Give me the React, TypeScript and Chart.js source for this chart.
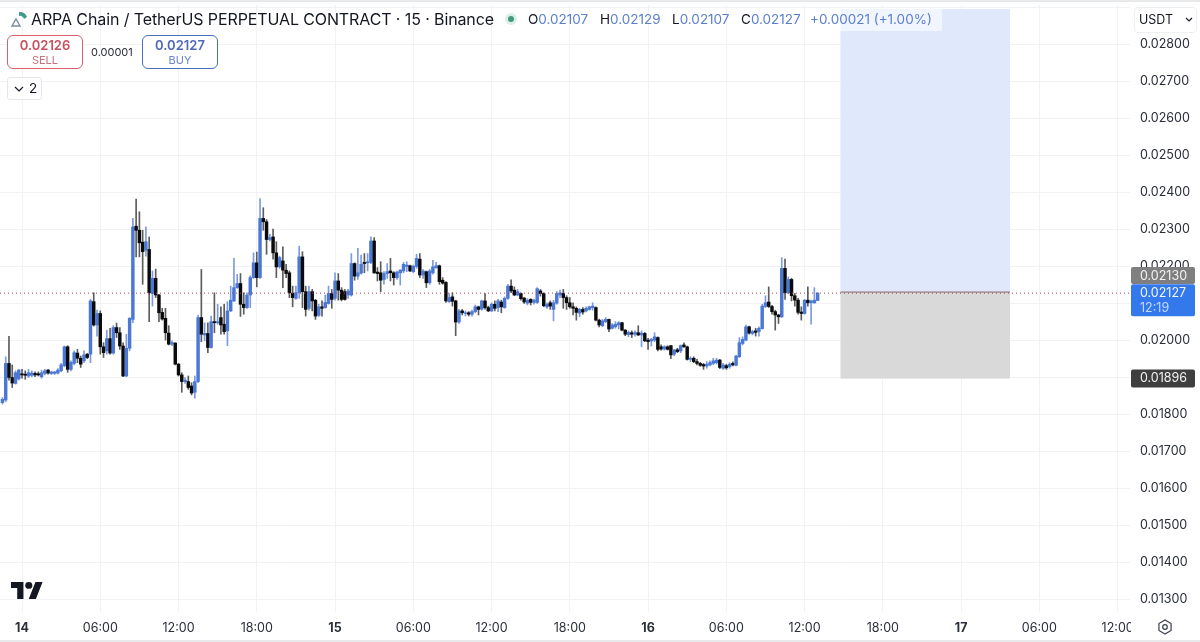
import React, { useEffect, useRef } from "react";
import { Chart, registerables } from "chart.js";

Chart.register(...registerables);

// Prices are in units of 0.00001 USDT; candle 0 is 14th 00:00, one candle = 15 minutes.
const PRICE_UNIT = 100000;
const firstCandle = -6;
const opens = [1831,1838,1937,1899,1883,1895,
1909,1908,1903,1905,1910,1909,1901,1910,1919,1910,
1910,1911,1917,1931,1982,1921,1937,1965,1951,1944,
1962,1962,2104,2041,2072,1982,1971,2004,1965,2034,
2020,1984,1903,1978,2056,2308,2297,2265,2243,2245,
2126,2167,2122,2075,2059,2019,1989,1992,1935,1906,
1888,1888,1876,1859,1888,2061,2014,2018,1980,2050,
2047,2061,2043,2025,2079,2106,2142,2153,2097,2088,
2122,2169,2209,2169,2329,2320,2272,2279,2236,2198,
2214,2189,2182,2127,2113,2128,2225,2131,2086,2131,
2108,2067,2090,2088,2099,2126,2113,2160,2135,2131,
2122,2122,2207,2173,2181,2210,2209,2210,2268,2184,
2182,2164,2180,2187,2182,2169,2182,2187,2199,2201,
2185,2199,2219,2176,2185,2155,2182,2196,2201,2162,
2156,2104,2117,2106,2049,2079,2072,2074,2070,2077,
2090,2084,2106,2088,2079,2097,2088,2103,2088,2113,
2146,2135,2122,2126,2114,2100,2110,2102,2102,2133,
2126,2090,2101,2083,2100,2122,2126,2115,2101,2090,
2086,2073,2083,2079,2083,2088,2088,2054,2039,2050,
2056,2032,2036,2041,2047,2027,2015,2020,2016,2020,
2014,2018,2000,1998,2000,2007,1982,1976,1982,1985,
1962,1974,1971,1987,1982,1948,1951,1942,1937,1934,
1930,1933,1937,1939,1946,1924,1931,1928,1937,1932,
1955,1991,2000,2036,2018,2025,2023,2031,2091,2103,
2091,2077,2068,2063,2194,2128,2164,2120,2108,2076,
2072,2108,2101,2101,2107];
const closes = [1840,1937,1899,1884,1912,1919,
1906,1905,1912,1911,1906,1906,1912,1917,1911,1914,
1914,1919,1933,1982,1921,1940,1966,1951,1935,1960,
1953,2106,2041,2072,1982,1966,2004,1965,2034,2020,
1984,1903,1978,2059,2306,2297,2263,2239,2266,2128,
2167,2122,2074,2057,2020,1989,1993,1935,1906,1888,
1892,1872,1857,1888,2061,2016,2018,1980,2050,2047,
2050,2041,2023,2079,2108,2142,2153,2097,2088,2122,
2169,2209,2169,2329,2320,2272,2277,2236,2198,2223,
2189,2180,2128,2115,2128,2225,2131,2083,2131,2106,
2065,2090,2086,2102,2126,2110,2160,2135,2110,2110,
2133,2207,2173,2182,2205,2207,2212,2268,2182,2180,
2162,2180,2185,2182,2169,2184,2189,2205,2203,2187,
2200,2221,2176,2187,2155,2187,2198,2201,2158,2154,
2106,2115,2105,2049,2079,2074,2074,2070,2077,2090,
2083,2106,2088,2079,2097,2086,2106,2090,2113,2146,
2133,2122,2131,2112,2103,2108,2102,2108,2139,2126,
2093,2097,2092,2101,2126,2128,2115,2101,2090,2086,
2075,2083,2076,2086,2090,2092,2054,2041,2052,2056,
2030,2041,2043,2047,2027,2016,2021,2016,2020,2014,
2019,1998,1996,2002,2009,1975,1976,1982,1975,1960,
1973,1969,1985,1982,1948,1951,1942,1937,1932,1930,
1935,1939,1944,1946,1926,1933,1925,1935,1933,1957,
1993,2002,2036,2019,2023,2021,2032,2092,2101,2091,
2077,2068,2063,2194,2128,2164,2120,2108,2075,2072,
2108,2101,2106,2108,2127];
const highs = [1845,1955,2010,1933,1917,1921,
1921,1917,1921,1917,1914,1914,1919,1921,1921,1916,
1916,1923,1937,1984,1985,1944,1971,1975,1957,1971,
1964,2110,2128,2081,2079,1993,2027,2032,2039,2046,
2034,1993,2016,2061,2329,2381,2347,2297,2306,2279,
2187,2192,2124,2086,2086,2039,1998,1993,1937,1912,
1899,1903,1885,1903,2068,2191,2047,2047,2065,2128,
2097,2090,2097,2104,2146,2221,2178,2180,2128,2128,
2174,2236,2238,2383,2358,2326,2286,2300,2266,2227,
2252,2205,2187,2146,2146,2254,2239,2146,2146,2137,
2110,2097,2106,2122,2146,2137,2182,2180,2142,2137,
2137,2234,2209,2248,2230,2234,2234,2279,2277,2196,
2212,2185,2207,2221,2185,2187,2191,2210,2212,2203,
2203,2232,2234,2191,2187,2191,2216,2210,2203,2169,
2158,2126,2128,2108,2083,2083,2079,2077,2081,2095,
2092,2108,2126,2092,2101,2106,2110,2108,2117,2151,
2163,2144,2137,2128,2115,2112,2112,2110,2142,2137,
2128,2101,2106,2108,2131,2135,2137,2120,2115,2101,
2090,2086,2088,2090,2092,2101,2090,2057,2056,2061,
2057,2045,2050,2050,2048,2029,2025,2025,2025,2039,
2025,2021,2005,2005,2020,2009,1987,1985,1985,1986,
1975,1978,1987,1993,1984,1955,1955,1948,1940,1937,
1942,1944,1951,1951,1948,1937,1935,1939,1941,1959,
2007,2009,2041,2038,2027,2032,2036,2097,2120,2144,
2094,2081,2070,2223,2219,2171,2167,2126,2113,2090,
2110,2144,2108,2142,2129];
const lows = [1827,1834,1892,1872,1881,1892,
1897,1894,1899,1901,1901,1903,1897,1906,1908,1907,
1907,1908,1915,1928,1913,1917,1933,1939,1926,1939,
1950,1939,2038,2011,1962,1953,1962,1962,1962,2007,
1975,1901,1901,1971,2047,2225,2225,2151,2227,2050,
2092,2115,2050,2054,2000,1987,1985,1933,1903,1859,
1883,1867,1852,1843,1885,1996,1998,1966,1978,2020,
2043,2016,2016,1985,2077,2104,2140,2064,2070,2086,
2088,2167,2144,2167,2297,2232,2268,2219,2169,2194,
2142,2169,2115,2090,2110,2113,2088,2065,2081,2079,
2056,2064,2065,2086,2097,2086,2108,2108,2106,2108,
2113,2119,2162,2164,2178,2182,2187,2207,2180,2160,
2131,2151,2167,2160,2149,2164,2149,2182,2185,2185,
2182,2194,2169,2167,2142,2151,2178,2194,2151,2151,
2102,2102,2092,2012,2045,2068,2065,2065,2065,2074,
2068,2081,2084,2077,2077,2079,2077,2074,2086,2110,
2128,2120,2120,2108,2099,2095,2095,2097,2099,2119,
2090,2086,2083,2052,2097,2115,2086,2083,2086,2068,
2054,2063,2070,2076,2081,2081,2052,2036,2036,2047,
2023,2030,2032,2030,2025,2012,2009,2007,2011,2012,
1982,1996,1975,1984,1996,1971,1973,1973,1973,1950,
1958,1966,1966,1980,1946,1942,1939,1933,1929,1921,
1924,1930,1933,1935,1923,1921,1921,1924,1930,1930,
1953,1987,1998,2016,2014,2011,2011,2030,2088,2088,
2070,2027,2045,2061,2110,2126,2106,2092,2070,2054,
2070,2092,2043,2099,2107];

const timeTickLabels = ["14","06:00","12:00","18:00","15","06:00","12:00","18:00","16","06:00","12:00","18:00","17","06:00","12:00"];
const priceTicks = [2900,2800,2700,2600,2500,2400,2300,2200,2100,2000,1900,1800,1700,1600,1500,1400,1300];
const lastPrice = 2127;
const markPrice = 2130;
const stopPrice = 1896;
const entryPrice = 2130;
const targetPrice = 2895;
const boxStartCandle = 251;
const boxEndCandle = 303;
const timerLabel = "12:19";

const BLUE = "#4a78d4";
const BLACK = "#0b0b0b";
const toPrice = (v: number) => v / PRICE_UNIT;
const FONT = "Inter, 'Noto Sans', sans-serif";

const overlayPlugin = {
  id: "overlay",
  beforeDatasetsDraw(chart: any) {
    const { ctx, scales } = chart;
    const x = scales.x, y = scales.y;
    const l = x.getPixelForValue(boxStartCandle), r = x.getPixelForValue(boxEndCandle);
    const top = y.getPixelForValue(toPrice(targetPrice));
    const mid = y.getPixelForValue(toPrice(entryPrice));
    const bot = y.getPixelForValue(toPrice(stopPrice));
    ctx.save();
    ctx.fillStyle = "#dfe9fb";
    ctx.fillRect(l, top, r - l, mid - top);
    ctx.fillStyle = "#d9d9d9";
    ctx.fillRect(l, mid, r - l, bot - mid);
    ctx.fillStyle = "#8a6a70";
    ctx.fillRect(l, mid - 0.5, r - l, 1);
    ctx.restore();
  },
  afterDraw(chart: any) {
    const { ctx, scales } = chart;
    const y = scales.y;
    const right = chart.chartArea.right;
    ctx.save();
    // cover for the time axis label that runs under the price axis
    ctx.fillStyle = "#ffffff";
    ctx.fillRect(right + 1, chart.chartArea.bottom + 1, 70, 27);
    const tag = (cy: number, h: number, bg: string) => {
      ctx.fillStyle = bg;
      ctx.beginPath();
      ctx.roundRect(right + 1, cy, 64, h, 2);
      ctx.fill();
    };
    ctx.font = "12.5px " + FONT;
    ctx.textAlign = "left";
    ctx.textBaseline = "middle";
    const mY = y.getPixelForValue(toPrice(markPrice));
    tag(mY - 25, 17, "#7f7f7f");
    ctx.fillStyle = "#f2f2f2";
    ctx.fillText((markPrice / PRICE_UNIT).toFixed(5), right + 10, mY - 16);
    const lY = y.getPixelForValue(toPrice(lastPrice));
    tag(lY - 9, 32, "#3479ec");
    ctx.fillStyle = "#f2f6ff";
    ctx.fillText((lastPrice / PRICE_UNIT).toFixed(5), right + 10, lY);
    ctx.fillStyle = "#c4d9fb";
    ctx.fillText(timerLabel, right + 10, lY + 15);
    const sY = y.getPixelForValue(toPrice(stopPrice));
    tag(sY - 9, 18, "#3f3f3f");
    ctx.fillStyle = "#f2f2f2";
    ctx.fillText((stopPrice / PRICE_UNIT).toFixed(5), right + 10, sY);
    // settings hexagon
    const cx = 1165, cyy = 627;
    ctx.strokeStyle = "#3a3f4a";
    ctx.lineWidth = 1.2;
    ctx.beginPath();
    for (let a = 0; a < 6; a++) {
      const t = Math.PI / 2 + (a * Math.PI) / 3;
      const px = cx + 7 * Math.cos(t), py = cyy + 7 * Math.sin(t);
      if (a === 0) ctx.moveTo(px, py); else ctx.lineTo(px, py);
    }
    ctx.closePath();
    ctx.stroke();
    ctx.beginPath();
    ctx.arc(cx, cyy, 2.3, 0, Math.PI * 2);
    ctx.stroke();
    ctx.restore();
  },
};

function Abs({ style, children }: { style: React.CSSProperties; children?: React.ReactNode }) {
  return <div style={{ position: "absolute", whiteSpace: "nowrap", ...style }}>{children}</div>;
}

export default function App() {
  const ref = useRef<HTMLCanvasElement>(null);
  useEffect(() => {
    const indices = opens.map((_, k) => firstCandle + k);
    const chart = new Chart(ref.current!, {
      type: "bar",
      plugins: [overlayPlugin],
      data: {
        datasets: [
          {
            type: "line",
            label: "last",
            data: [{ x: -6.75, y: toPrice(lastPrice) }, { x: 339.8, y: toPrice(lastPrice) }],
            borderColor: "#9c4a5c",
            borderWidth: 1,
            borderDash: [1, 3],
            pointRadius: 0,
            order: 0,
          },
          {
            label: "body",
            data: indices.map((x, k) => ({ x, y: [toPrice(opens[k]), toPrice(closes[k])] })),
            backgroundColor: indices.map((_, k) => (closes[k] >= opens[k] ? BLUE : BLACK)),
            barThickness: 2.8,
            grouped: false,
            order: 1,
          },
          {
            label: "wick",
            data: indices.map((x, k) => ({ x, y: [toPrice(lows[k]), toPrice(highs[k])] })),
            backgroundColor: indices.map((_, k) => (closes[k] >= opens[k] ? "#7c9be0" : "#5c5c5c")),
            barThickness: 1,
            grouped: false,
            order: 2,
          },
        ] as any,
      },
      options: {
        responsive: false,
        animation: false,
        events: [],
        layout: { padding: { top: 5, left: 0, right: 0, bottom: 0 } },
        plugins: { legend: { display: false }, tooltip: { enabled: false } },
        scales: {
          x: {
            type: "linear",
            offset: false,
            min: -6.75,
            max: 339.8,
            grid: { color: "#f1f2f4", drawTicks: false, offset: false },
            border: { display: false },
            afterFit: (s: any) => { s.height = 30; s.paddingLeft = 0; s.paddingRight = 0; },
            afterBuildTicks: (s: any) => {
              s.ticks = timeTickLabels.map((_, i) => ({ value: i * 24 }));
            },
            ticks: {
              autoSkip: false,
              maxRotation: 0,
              padding: 9,
              color: "#2a2e39",
              font: (c: any) => {
                const label = timeTickLabels[Math.round((c.tick?.value ?? 0) / 24)] ?? "";
                return { family: FONT, size: 12.5, weight: label.includes(":") ? "normal" : "bold" };
              },
              callback: (v: any) => timeTickLabels[Math.round(Number(v) / 24)] ?? "",
            },
          },
          y: {
            type: "linear",
            position: "right",
            min: 1265 / PRICE_UNIT,
            max: 2906 / PRICE_UNIT,
            grid: { color: "#f1f2f4", drawTicks: false },
            border: { display: false },
            afterFit: (s: any) => { s.width = 70; s.paddingTop = 0; s.paddingBottom = 0; },
            afterBuildTicks: (s: any) => {
              s.ticks = priceTicks.map((p) => ({ value: toPrice(p) }));
            },
            ticks: {
              autoSkip: false,
              padding: 10,
              color: "#2a2e39",
              font: { family: FONT, size: 12.5 },
              callback: (v: any) => (Number(v) > 0.0285 ? "" : Number(v).toFixed(5)),
            },
          },
        },
      },
    } as any);
    return () => chart.destroy();
  }, []);

  const blueText = "#5b7fcf";
  const F: React.CSSProperties = { fontFamily: FONT };
  return (
    <div style={{ position: "fixed", left: 0, top: 0, width: 1200, height: 642, background: "#fff", overflow: "hidden", ...F }}>
      <canvas ref={ref} width={1200} height={642} style={{ display: "block", position: "absolute", left: 0, top: 0 }} />
      <Abs style={{ left: 0, top: 0, width: 1200, height: 2, background: "#e8e9eb" }} />
      <Abs style={{ left: 0, top: 640, width: 1200, height: 2, background: "#e8e9eb" }} />
      <svg width="20" height="20" viewBox="0 0 20 20" style={{ position: "absolute", left: 9, top: 8 }}>
        <path d="M10 4 A7 7 0 0 1 18 9 L15 11 A4 4 0 0 0 10 8 Z" fill="#3f9a8a" />
        <path d="M7 11 L11 18 L3 18 Z" fill="none" stroke="#7f8a99" strokeWidth="1.4" />
      </svg>
      <Abs style={{ left: 31, top: 9, fontSize: 16, lineHeight: "20px", color: "#131722", letterSpacing: -0.11 }}>
        ARPA Chain / TetherUS PERPETUAL CONTRACT · 15 · Binance
      </Abs>
      <Abs style={{ left: 505, top: 13, width: 12, height: 12, borderRadius: 6, background: "#dcefe9" }} />
      <Abs style={{ left: 508, top: 16, width: 6, height: 6, borderRadius: 3, background: "#3f9a7f" }} />
      <Abs style={{ left: 840, top: 9, width: 102, height: 22, background: "rgba(255,255,255,0.55)" }} />
      {[
        ["O", "0.02107", 528],
        ["H", "0.02129", 600],
        ["L", "0.02107", 672],
        ["C", "0.02127", 741],
      ].map(([k, v, x]) => (
        <Abs key={String(k)} style={{ left: x as number, top: 11, fontSize: 13.5, lineHeight: "17px", color: "#131722" }}>
          {k}
          <span style={{ color: blueText }}>{v}</span>
        </Abs>
      ))}
      <Abs style={{ left: 810, top: 11, fontSize: 13.5, lineHeight: "17px", color: blueText }}>+0.00021 (+1.00%)</Abs>

      <Abs style={{ left: 7, top: 35, width: 74, height: 32, border: "1px solid #d9606c", borderRadius: 6, background: "#fff", textAlign: "center" }}>
        <div style={{ fontSize: 13, fontWeight: 600, color: "#c9505f", lineHeight: "15px", marginTop: 2 }}>0.02126</div>
        <div style={{ fontSize: 11, color: "#c9707c", lineHeight: "14px" }}>SELL</div>
      </Abs>
      <Abs style={{ left: 91, top: 45, fontSize: 11, lineHeight: "14px", color: "#2a2e39" }}>0.00001</Abs>
      <Abs style={{ left: 142, top: 35, width: 74, height: 32, border: "1px solid #4a6fc0", borderRadius: 6, background: "#fff", textAlign: "center" }}>
        <div style={{ fontSize: 13, fontWeight: 600, color: "#4f68bd", lineHeight: "15px", marginTop: 2 }}>0.02127</div>
        <div style={{ fontSize: 11, color: "#6f84c8", lineHeight: "14px" }}>BUY</div>
      </Abs>
      <Abs style={{ left: 7, top: 77, width: 33, height: 21, border: "1px solid #e6e7ea", borderRadius: 3, background: "#fff" }}>
        <svg width="10" height="8" viewBox="0 0 10 8" style={{ position: "absolute", left: 6, top: 7 }}>
          <path d="M1 2 L5 6 L9 2" fill="none" stroke="#131722" strokeWidth="1.2" />
        </svg>
        <span style={{ position: "absolute", left: 21, top: 2, fontSize: 13.5, lineHeight: "17px", color: "#131722" }}>2</span>
      </Abs>

      <Abs style={{ left: 1134, top: 7, width: 61, height: 24, border: "1px solid #eeeff1", borderRadius: 4, background: "#fff" }}>
        <span style={{ position: "absolute", left: 4, top: 4, fontSize: 12.5, lineHeight: "16px", color: "#131722" }}>USDT</span>
        <svg width="8" height="6" viewBox="0 0 8 6" style={{ position: "absolute", left: 50, top: 9 }}>
          <path d="M1 1 L4 4 L7 1" fill="none" stroke="#131722" strokeWidth="1.1" />
        </svg>
      </Abs>

      <svg width="32" height="17" viewBox="0 0 36 20" style={{ position: "absolute", left: 11, top: 582 }} preserveAspectRatio="none">
        <path d="M14 20H7V7H0V0h14v20zM28 20h-8L27.5 0h8L28 20z" fill="#131722" />
        <circle cx="20" cy="4" r="4" fill="#131722" />
      </svg>
    </div>
  );
}
